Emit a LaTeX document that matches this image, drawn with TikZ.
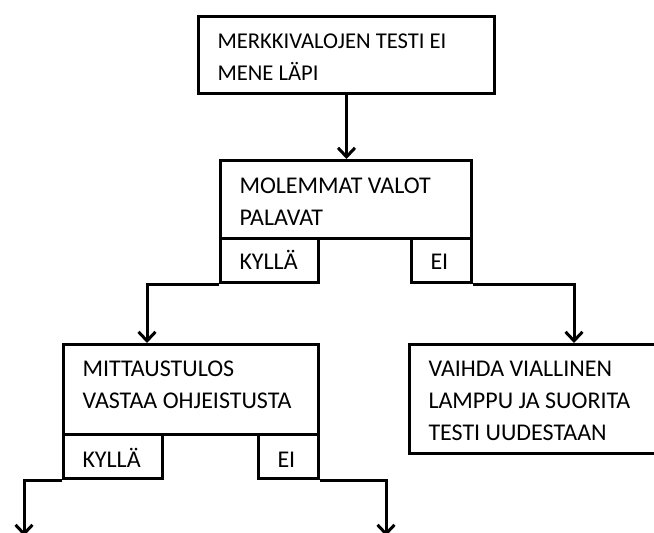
\documentclass[tikz,border=0pt]{standalone}
\usepackage{fontspec}
\setmainfont{Carlito}
\usetikzlibrary{arrows.meta}
\newcommand\bxtext[4]{\parbox[t][#2][t]{#1}{\fontsize{24}{32}\selectfont\leftskip=19pt\relax\rule{0pt}{#3}#4}}
\begin{document}
\begin{tikzpicture}[x=1pt,y=-1pt,
  fbox/.style={draw=black,line width=3pt,inner sep=0pt,anchor=north west,fill=white},
  arr/.style={line width=3pt,-{Straight Barb[length=9pt,width=17pt]}}]
\clip (0,0) rectangle (654,533);
\fill[white] (0,0) rectangle (654,533);
% top box
\node[fbox] (b1) at (197,15) {\bxtext{296pt}{77pt}{32pt}{\fontsize{22.6}{31.5}\selectfont MERKKIVALOJEN TESTI EI\\MENE LÄPI}};
% decision 1
\node[fbox] (b2) at (219,159) {\bxtext{251pt}{78pt}{33pt}{MOLEMMAT VALOT\\PALAVAT}};
\node[fbox] (k2) at (219,237) {\bxtext{98pt}{44pt}{31pt}{KYLLÄ}};
\node[fbox] (e2) at (410,237) {\bxtext{60pt}{44pt}{31pt}{EI}};
% decision 2
\node[fbox] (b3) at (62,343) {\bxtext{255pt}{90pt}{32pt}{MITTAUSTULOS\\VASTAA OHJEISTUSTA}};
\node[fbox] (k3) at (62,433) {\bxtext{99pt}{44pt}{33pt}{KYLLÄ}};
\node[fbox] (e3) at (257,433) {\bxtext{60pt}{44pt}{33pt}{EI}};
% action box (clipped at right)
\node[fbox] (v) at (408,343) {\bxtext{270pt}{109pt}{32pt}{VAIHDA VIALLINEN\\LAMPPU JA SUORITA\\TESTI UUDESTAAN}};
% free ends
\coordinate (end1) at (24,536);
\coordinate (end2) at (386,536);
% connectors
\draw[arr] (b1.south) -- (b1.south |- b2.north);
\draw[arr] (k2.south west) -| ([xshift=85pt]b3.north west);
\draw[arr] (e2.south east) -| ([xshift=166pt]v.north west);
\draw[arr] (k3.south west) -| (end1);
\draw[arr] (e3.south east) -| (end2);
\end{tikzpicture}
\end{document}
